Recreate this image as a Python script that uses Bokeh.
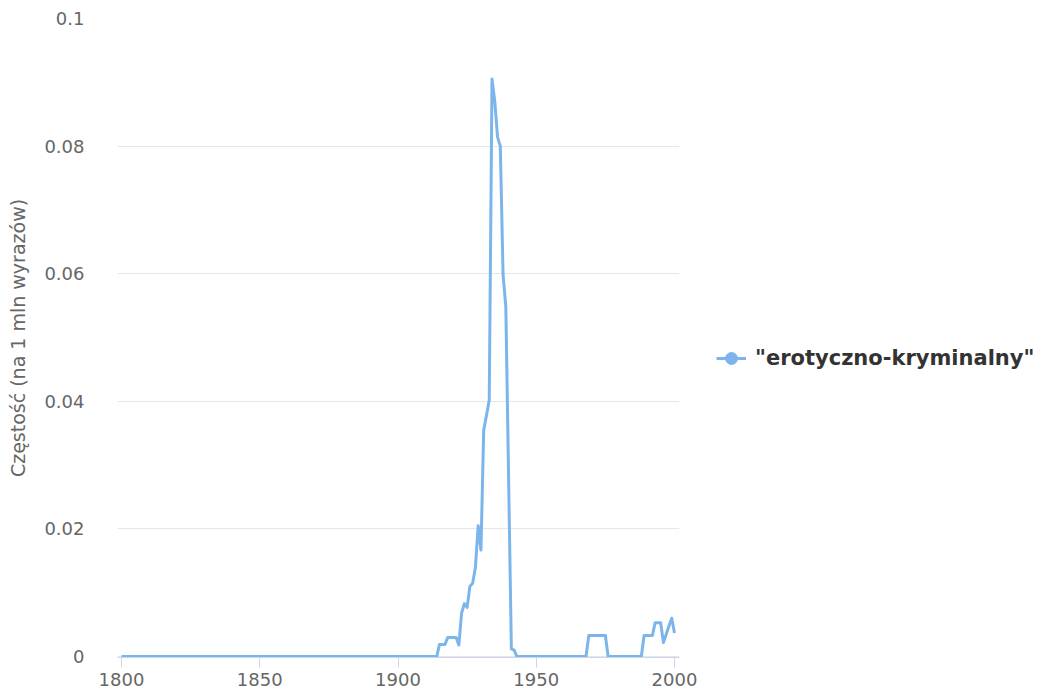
from bokeh.plotting import figure
from bokeh.models import ColumnDataSource, Legend, LegendItem, Range1d, FixedTicker
from bokeh.embed import file_html
from bokeh.resources import INLINE

series_name = '"erotyczno-kryminalny"'
y_axis_title = "Częstość (na 1 mln wyrazów)"

# yearly values (flat zero from 1800 to 1912)
years = [1800] + list(range(1912, 2001))
values = [0.0,
          0.0, 0.0, 0.0, 0.0019, 0.0019, 0.0019, 0.003, 0.003, 0.003, 0.003,      # 1912-1921
          0.0018, 0.0068, 0.0083, 0.0077, 0.011, 0.0115, 0.014, 0.0205, 0.0167,   # 1922-1930
          0.0355, 0.0378, 0.0402, 0.0905, 0.087, 0.0814, 0.0800, 0.0598, 0.0548,  # 1931-1939
          0.028, 0.0012, 0.0010, 0.0,                                             # 1940-1943
          0.0, 0.0, 0.0, 0.0, 0.0, 0.0, 0.0, 0.0, 0.0, 0.0, 0.0, 0.0,             # 1944-1955
          0.0, 0.0, 0.0, 0.0, 0.0, 0.0, 0.0, 0.0, 0.0, 0.0, 0.0, 0.0,             # 1956-1967
          0.0, 0.0033, 0.0033, 0.0033, 0.0033, 0.0033, 0.0033, 0.0033, 0.0,       # 1968-1976
          0.0, 0.0, 0.0, 0.0, 0.0, 0.0, 0.0, 0.0, 0.0, 0.0, 0.0, 0.0,             # 1977-1988
          0.0033, 0.0033, 0.0033, 0.0033, 0.0053, 0.0053, 0.0053,                 # 1989-1995
          0.0022, 0.0035, 0.0048, 0.006, 0.0037]                                  # 1996-2000

x_ticks = [1800, 1850, 1900, 1950, 2000]
y_ticks = [0, 0.02, 0.04, 0.06, 0.08, 0.1]
y_tick_labels = ["0", "0.02", "0.04", "0.06", "0.08", "0.1"]

LINE_COLOR = "#7cb5ec"
FONT = "DejaVu Sans"

src = ColumnDataSource(dict(year=years, value=values))

p = figure(frame_width=562, frame_height=639, output_backend="svg", toolbar_location=None,
           x_range=Range1d(1798.55, 2001.81), y_range=Range1d(-0.00015, 0.1),
           min_border_left=117, min_border_top=18, min_border_bottom=38,
           min_border_right=20)
p.outline_line_color = None
p.background_fill_color = "white"
p.border_fill_color = "white"

line_r = p.line("year", "value", source=src, line_color=LINE_COLOR, line_width=3,
                line_join="round")

# point markers are hidden on the line (as in the original) and shown only in the
# legend: the marker renderer lives on a range in which its point is out of view
p.extra_y_ranges = {"legend_only": Range1d(1, 2)}
marker_src = ColumnDataSource(dict(year=years[:1], value=values[:1]))
marker_r = p.scatter("year", "value", source=marker_src, y_range_name="legend_only",
                     size=12, fill_color=LINE_COLOR, line_color=LINE_COLOR)

# axes
xa = p.xaxis[0]
xa.ticker = FixedTicker(ticks=x_ticks)
xa.axis_line_color = "#ccd6eb"
xa.major_tick_line_color = "#ccd6eb"
xa.major_tick_in = 0
xa.major_tick_out = 10
xa.minor_tick_line_color = None
xa.major_label_text_font = FONT
xa.major_label_text_font_size = "18px"
xa.major_label_text_color = "#666666"
xa.major_label_standoff = 5

ya = p.yaxis[0]
ya.ticker = FixedTicker(ticks=y_ticks)
ya.major_label_overrides = {t: l for t, l in zip(y_ticks, y_tick_labels)}
ya.axis_line_color = None
ya.major_tick_line_color = None
ya.minor_tick_line_color = None
ya.major_label_text_font = FONT
ya.major_label_text_font_size = "18px"
ya.major_label_text_color = "#666666"
ya.major_label_standoff = 27
ya.axis_label = y_axis_title
ya.axis_label_text_font = FONT
ya.axis_label_text_font_size = "19px"
ya.axis_label_text_font_style = "normal"
ya.axis_label_text_color = "#666666"
ya.axis_label_standoff = 12

p.xgrid.grid_line_color = None
p.ygrid.ticker = FixedTicker(ticks=y_ticks)
p.ygrid.grid_line_color = "#e6e6e6"
p.ygrid.grid_line_width = 1

legend = Legend(items=[LegendItem(label=series_name, renderers=[line_r, marker_r])],
                location=(37, 284), orientation="vertical",
                border_line_color=None, background_fill_alpha=0,
                padding=0, margin=0, glyph_width=30, glyph_height=30,
                label_standoff=9, spacing=0,
                label_text_font=FONT, label_text_font_size="21px",
                label_text_font_style="bold", label_text_color="#333333")
p.add_layout(legend, "right")

open("out.html", "w").write(file_html(p, INLINE))
